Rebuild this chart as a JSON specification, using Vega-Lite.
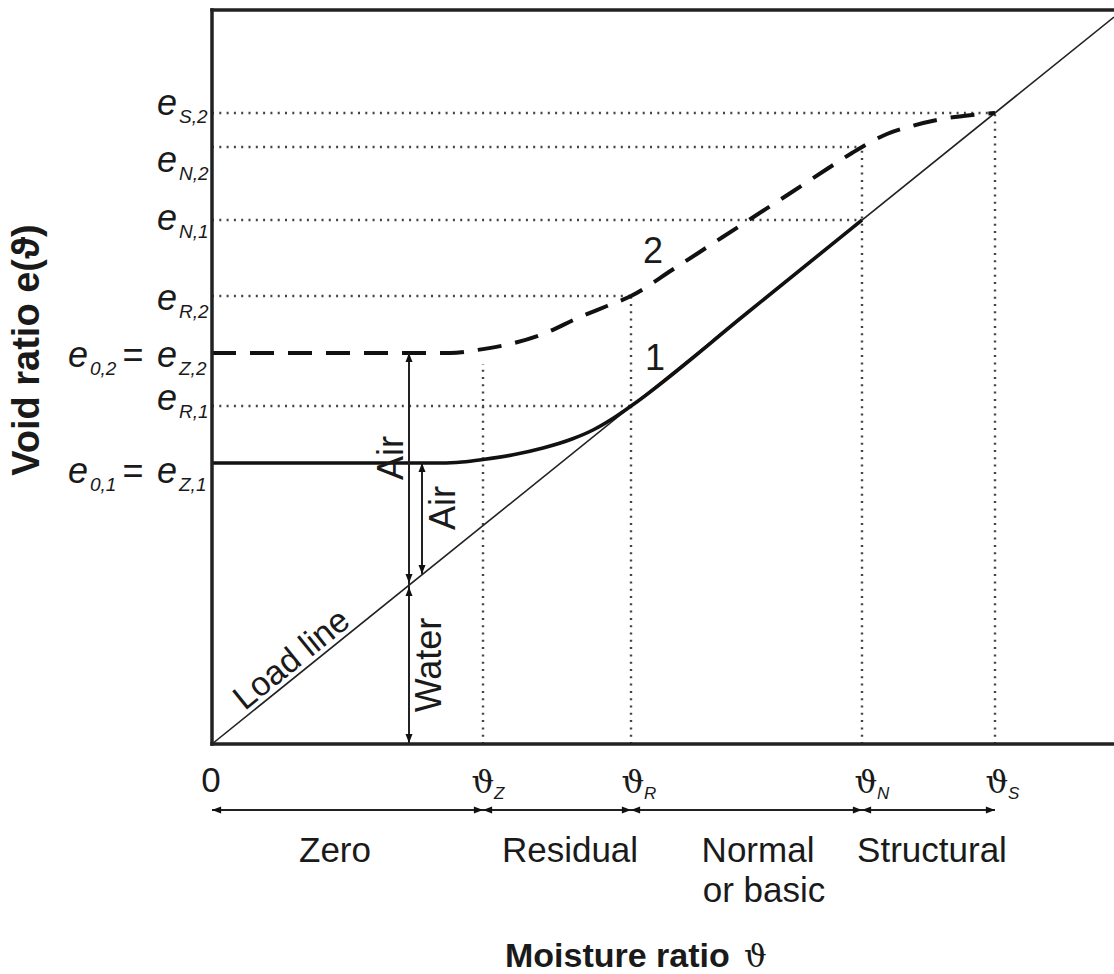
{
  "$schema": "https://vega.github.io/schema/vega-lite/v6.json",
  "width": 902,
  "height": 734,
  "autosize": "none",
  "padding": {"left": 212, "top": 10, "right": 0, "bottom": 230},
  "background": "white",
  "config": {"view": {"stroke": null}},
  "datasets": {
    "frame": [
      {"x": 0, "y": 0, "x2": 0, "y2": 734},
      {"x": 0, "y": 734, "x2": 902, "y2": 734},
      {"x": 0, "y": 0, "x2": 902, "y2": 0}
    ],
    "loadline": [{"x": 0, "y": 0}, {"x": 902, "y": 727}],
    "curve1": [
      {"x": 0, "y": 281}, {"x": 230, "y": 281}, {"x": 250, "y": 282}, {"x": 271, "y": 284.5},
      {"x": 300, "y": 289}, {"x": 331, "y": 296}, {"x": 360, "y": 305}, {"x": 381, "y": 314},
      {"x": 400, "y": 325}, {"x": 419, "y": 338}, {"x": 535, "y": 431}, {"x": 650, "y": 524}
    ],
    "curve2": [
      {"x": 0, "y": 391}, {"x": 238, "y": 391}, {"x": 265, "y": 394}, {"x": 298, "y": 400},
      {"x": 331, "y": 410}, {"x": 368, "y": 427}, {"x": 395, "y": 438}, {"x": 419, "y": 448},
      {"x": 460, "y": 474}, {"x": 500, "y": 500}, {"x": 540, "y": 526}, {"x": 580, "y": 552},
      {"x": 615, "y": 575}, {"x": 640, "y": 591}, {"x": 655, "y": 600}, {"x": 675, "y": 610},
      {"x": 700, "y": 618}, {"x": 730, "y": 625}, {"x": 760, "y": 629}, {"x": 783, "y": 631}
    ],
    "guides": [
      {"x": 0, "y": 631, "x2": 783, "y2": 631},
      {"x": 0, "y": 597, "x2": 650, "y2": 597},
      {"x": 0, "y": 524, "x2": 650, "y2": 524},
      {"x": 0, "y": 448, "x2": 419, "y2": 448},
      {"x": 0, "y": 338, "x2": 419, "y2": 338},
      {"x": 271, "y": 0, "x2": 271, "y2": 380},
      {"x": 419, "y": 0, "x2": 419, "y2": 448},
      {"x": 650, "y": 0, "x2": 650, "y2": 597},
      {"x": 783, "y": 0, "x2": 783, "y2": 631}
    ],
    "spans": [
      {"x": 197, "y": 0, "x2": 197, "y2": 391},
      {"x": 210, "y": 170, "x2": 210, "y2": 281},
      {"x": 0, "y": -66, "x2": 783, "y2": -66}
    ],
    "heads": [
      {"x": 197, "y": 391, "dir": "up"}, {"x": 197, "y": 161, "dir": "down"},
      {"x": 197, "y": 157, "dir": "up"}, {"x": 197, "y": 1, "dir": "down"},
      {"x": 210, "y": 281, "dir": "up"}, {"x": 210, "y": 170, "dir": "down"},
      {"x": 0, "y": -66, "dir": "left"},
      {"x": 271, "y": -66, "dir": "right"}, {"x": 271, "y": -66, "dir": "left"},
      {"x": 419, "y": -66, "dir": "right"}, {"x": 419, "y": -66, "dir": "left"},
      {"x": 650, "y": -66, "dir": "right"}, {"x": 650, "y": -66, "dir": "left"},
      {"x": 783, "y": -66, "dir": "right"}
    ],
    "zones": [
      {"label": "Zero", "x": 123, "y": -118},
      {"label": "Residual", "x": 358, "y": -118},
      {"label": "Normal", "x": 546, "y": -118},
      {"label": "or basic", "x": 552, "y": -158},
      {"label": "Structural", "x": 720, "y": -118},
      {"label": "0", "x": -1, "y": -48}
    ],
    "thetas": [
      {"sub": "Z", "x": 271}, {"sub": "R", "x": 421}, {"sub": "N", "x": 654}, {"sub": "S", "x": 785}
    ],
    "elabels": [
      {"sub": "S,2", "x": -35, "y": 629}, {"sub": "N,2", "x": -35, "y": 572},
      {"sub": "N,1", "x": -35, "y": 514}, {"sub": "R,2", "x": -35, "y": 434},
      {"sub": "Z,2", "x": -35, "y": 377}, {"sub": "R,1", "x": -35, "y": 334},
      {"sub": "Z,1", "x": -35, "y": 261},
      {"sub": "0,2", "x": -124, "y": 377}, {"sub": "0,1", "x": -124, "y": 261}
    ],
    "equals": [{"x": -79, "y": 377}, {"x": -79, "y": 261}],
    "curvenames": [{"label": "1", "x": 443, "y": 374}, {"label": "2", "x": 441, "y": 481}],
    "phases": [
      {"label": "Air", "x": 180, "y": 286},
      {"label": "Air", "x": 232, "y": 236},
      {"label": "Water", "x": 218, "y": 79}
    ],
    "loadname": [{"label": "Load line", "x": 80, "y": 84}],
    "xtitle": [{"label": "Moisture ratio", "x": 293, "y": -223, "sym": "ϑ", "sx": 532}],
    "ytitle": [{"label": "Void ratio e(ϑ)", "x": -184, "y": 394}]
  },
  "layer": [
    {
      "data": {"name": "guides"},
      "mark": {"type": "rule", "color": "#444", "strokeWidth": 2.4, "strokeDash": [2, 5.3]},
      "encoding": {
        "x": {"field": "x", "type": "quantitative", "scale": {"domain": [0, 902], "nice": false, "zero": false}, "axis": null},
        "y": {"field": "y", "type": "quantitative", "scale": {"domain": [0, 734], "nice": false, "zero": false}, "axis": null},
        "x2": {"field": "x2"},
        "y2": {"field": "y2"}
      }
    },
    {
      "data": {"name": "loadline"},
      "mark": {"type": "line", "color": "#222", "strokeWidth": 1.6},
      "encoding": {
        "x": {"field": "x", "type": "quantitative"},
        "y": {"field": "y", "type": "quantitative"}
      }
    },
    {
      "data": {"name": "curve1"},
      "mark": {"type": "line", "color": "#111", "strokeWidth": 3.6, "interpolate": "monotone"},
      "encoding": {
        "x": {"field": "x", "type": "quantitative"},
        "y": {"field": "y", "type": "quantitative"}
      }
    },
    {
      "data": {"name": "curve2"},
      "mark": {"type": "line", "color": "#111", "strokeWidth": 4, "interpolate": "monotone", "strokeDash": [24, 14]},
      "encoding": {
        "x": {"field": "x", "type": "quantitative"},
        "y": {"field": "y", "type": "quantitative"}
      }
    },
    {
      "data": {"name": "spans"},
      "mark": {"type": "rule", "color": "#222", "strokeWidth": 2},
      "encoding": {
        "x": {"field": "x", "type": "quantitative"},
        "y": {"field": "y", "type": "quantitative"},
        "x2": {"field": "x2"},
        "y2": {"field": "y2"}
      }
    },
    {
      "data": {"name": "heads"},
      "mark": {"type": "point", "filled": true, "color": "#111", "opacity": 1, "size": 49, "strokeWidth": 0},
      "encoding": {
        "x": {"field": "x", "type": "quantitative"},
        "y": {"field": "y", "type": "quantitative"},
        "shape": {
          "field": "dir", "type": "nominal", "legend": null,
          "scale": {
            "domain": ["up", "down", "left", "right"],
            "range": ["M0,0L-1,2.6L1,2.6Z", "M0,0L-1,-2.6L1,-2.6Z", "M0,0L2.6,-1L2.6,1Z", "M0,0L-2.6,-1L-2.6,1Z"]
          }
        }
      }
    },
    {
      "data": {"name": "frame"},
      "mark": {"type": "rule", "color": "#222", "strokeWidth": 3.5, "strokeCap": "square"},
      "encoding": {
        "x": {"field": "x", "type": "quantitative"},
        "y": {"field": "y", "type": "quantitative"},
        "x2": {"field": "x2"},
        "y2": {"field": "y2"}
      }
    },
    {
      "data": {"name": "zones"},
      "mark": {"type": "text", "font": "Liberation Sans", "fontSize": 35, "color": "#1a1a1a", "align": "center", "baseline": "alphabetic"},
      "encoding": {
        "x": {"field": "x", "type": "quantitative"},
        "y": {"field": "y", "type": "quantitative"},
        "text": {"field": "label"}
      }
    },
    {
      "data": {"name": "thetas"},
      "mark": {"type": "text", "font": "DejaVu Serif", "fontSize": 32, "color": "#1a1a1a", "align": "center", "baseline": "alphabetic"},
      "encoding": {
        "x": {"field": "x", "type": "quantitative"},
        "y": {"datum": -49, "type": "quantitative"},
        "text": {"value": "ϑ"}
      }
    },
    {
      "data": {"name": "thetas"},
      "mark": {"type": "text", "font": "Liberation Sans", "fontStyle": "italic", "fontSize": 17, "color": "#1a1a1a", "align": "left", "baseline": "alphabetic", "dx": 11},
      "encoding": {
        "x": {"field": "x", "type": "quantitative"},
        "y": {"datum": -55, "type": "quantitative"},
        "text": {"field": "sub"}
      }
    },
    {
      "data": {"name": "elabels"},
      "mark": {"type": "text", "font": "Liberation Sans", "fontStyle": "italic", "fontSize": 36, "color": "#1a1a1a", "align": "right", "baseline": "alphabetic"},
      "encoding": {
        "x": {"field": "x", "type": "quantitative"},
        "y": {"field": "y", "type": "quantitative"},
        "text": {"value": "e"}
      }
    },
    {
      "data": {"name": "elabels"},
      "mark": {"type": "text", "font": "Liberation Sans", "fontStyle": "italic", "fontSize": 19, "color": "#1a1a1a", "align": "left", "baseline": "alphabetic", "dx": 2, "dy": 8},
      "encoding": {
        "x": {"field": "x", "type": "quantitative"},
        "y": {"field": "y", "type": "quantitative"},
        "text": {"field": "sub"}
      }
    },
    {
      "data": {"name": "equals"},
      "mark": {"type": "text", "font": "Liberation Sans", "fontSize": 36, "color": "#1a1a1a", "align": "center", "baseline": "alphabetic"},
      "encoding": {
        "x": {"field": "x", "type": "quantitative"},
        "y": {"field": "y", "type": "quantitative"},
        "text": {"value": "="}
      }
    },
    {
      "data": {"name": "curvenames"},
      "mark": {"type": "text", "font": "Liberation Sans", "fontSize": 36, "color": "#1a1a1a", "align": "center", "baseline": "alphabetic"},
      "encoding": {
        "x": {"field": "x", "type": "quantitative"},
        "y": {"field": "y", "type": "quantitative"},
        "text": {"field": "label"}
      }
    },
    {
      "data": {"name": "phases"},
      "mark": {"type": "text", "font": "Liberation Sans", "fontSize": 36, "color": "#1a1a1a", "align": "center", "baseline": "middle", "angle": 270},
      "encoding": {
        "x": {"field": "x", "type": "quantitative"},
        "y": {"field": "y", "type": "quantitative"},
        "text": {"field": "label"}
      }
    },
    {
      "data": {"name": "loadname"},
      "mark": {"type": "text", "font": "Liberation Sans", "fontSize": 34, "color": "#1a1a1a", "align": "center", "baseline": "middle", "angle": 321},
      "encoding": {
        "x": {"field": "x", "type": "quantitative"},
        "y": {"field": "y", "type": "quantitative"},
        "text": {"field": "label"}
      }
    },
    {
      "data": {"name": "xtitle"},
      "mark": {"type": "text", "font": "Liberation Sans", "fontWeight": "bold", "fontSize": 34, "color": "#1a1a1a", "align": "left", "baseline": "alphabetic"},
      "encoding": {
        "x": {"field": "x", "type": "quantitative"},
        "y": {"field": "y", "type": "quantitative"},
        "text": {"field": "label"}
      }
    },
    {
      "data": {"name": "xtitle"},
      "mark": {"type": "text", "font": "DejaVu Serif", "fontSize": 32, "color": "#1a1a1a", "align": "left", "baseline": "alphabetic"},
      "encoding": {
        "x": {"field": "sx", "type": "quantitative"},
        "y": {"field": "y", "type": "quantitative"},
        "text": {"field": "sym"}
      }
    },
    {
      "data": {"name": "ytitle"},
      "mark": {"type": "text", "font": "Liberation Sans", "fontWeight": "bold", "fontSize": 38, "color": "#1a1a1a", "align": "center", "baseline": "middle", "angle": 270},
      "encoding": {
        "x": {"field": "x", "type": "quantitative"},
        "y": {"field": "y", "type": "quantitative"},
        "text": {"field": "label"}
      }
    }
  ]
}
